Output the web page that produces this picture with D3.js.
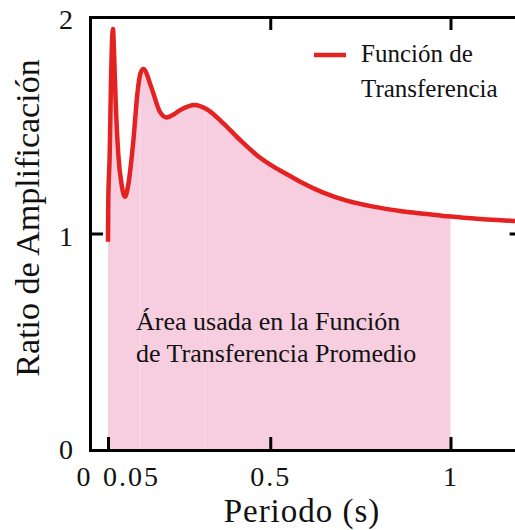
<!DOCTYPE html>
<html>
<head>
<meta charset="utf-8">
<script src="https://cdn.jsdelivr.net/npm/d3@7"></script>
<style>
  body { margin: 0; background: #fff; }
</style>
</head>
<body>
<div id="chart"></div>
<script>
// period (s) and amplification ratio
var periods = [0.0499, 0.0507, 0.0546, 0.0582, 0.0610, 0.0638, 0.0666, 0.0712, 0.0786, 0.0878,
               0.0970, 0.1060, 0.1200, 0.1320, 0.1400, 0.1480, 0.1710, 0.1940, 0.2130, 0.2340,
               0.2500, 0.2910, 0.3240, 0.3700, 0.4160, 0.4620, 0.5090, 0.5500, 0.5830, 0.6470,
               0.7120, 0.7860, 0.8600, 0.9340, 1.0000, 1.0820, 1.1740, 1.2000]
var ratios  = [0.962, 1.147, 1.363, 1.701, 1.886, 1.945, 1.840, 1.609, 1.363, 1.224,
               1.170, 1.224, 1.424, 1.655, 1.740, 1.760, 1.671, 1.562, 1.536, 1.552,
               1.570, 1.594, 1.574, 1.509, 1.432, 1.363, 1.309, 1.270, 1.239, 1.189,
               1.152, 1.124, 1.104, 1.090, 1.078, 1.067, 1.058, 1.055]

var xTicks = [0, 0.05, 0.5, 1]
var xTopTicks = [0.5, 1]
var yTicks = [0, 1, 2]
var areaRange = [0.05, 1]
var seamPeriods = [0.139, 0.319]   // faint joins visible in the shaded patch
var legendLabel = ["Función de", "Transferencia"]
var noteLines = ["Área usada en la Función", "de Transferencia Promedio"]

var width = 515, height = 530
var red = "#e52222", pink = "#f7cde0"
var serif = "'Liberation Serif'"

var data = periods.map(function(p, i){ return {t: p, a: ratios[i]} })

var svg = d3.select("#chart").append("svg")
    .attr("width", width)
    .attr("height", height)

var x = d3.scaleLinear().domain([0, 1.2]).range([90, 522.6])
var y = d3.scaleLinear().domain([0, 2]).range([450, 17])

var lineGen = d3.line()
    .x(function(d){ return x(d.t) })
    .y(function(d){ return y(d.a) })
    .curve(d3.curveMonotoneX)

// shaded area used for the average transfer function
var areaData = data.filter(function(d){ return d.t >= areaRange[0] - 0.001 && d.t <= areaRange[1] })
svg.append("path")
    .datum(areaData)
    .attr("fill", pink)
    .attr("d", d3.area()
        .x(function(d){ return x(Math.max(d.t, areaRange[0])) })
        .y0(y(0))
        .y1(function(d){ return y(d.a) })
        .curve(d3.curveMonotoneX))

// light seams inside the patch
var bisect = d3.bisector(function(d){ return d.t }).left
svg.selectAll("line.seam")
    .data(seamPeriods)
    .join("line")
    .attr("class", "seam")
    .attr("x1", function(d){ return x(d) })
    .attr("x2", function(d){ return x(d) })
    .attr("y1", y(0))
    .attr("y2", function(d){
        var i = bisect(data, d), a = data[i - 1], b = data[i]
        var v = a.a + (b.a - a.a) * (d - a.t) / (b.t - a.t)
        return y(v)
    })
    .attr("stroke", "#fff")
    .attr("stroke-opacity", 0.35)
    .attr("stroke-width", 1)

// the curve
svg.append("path")
    .datum(data)
    .attr("fill", "none")
    .attr("stroke", red)
    .attr("stroke-width", 4.5)
    .attr("stroke-linejoin", "round")
    .attr("d", lineGen)

// axes, ticks pointing inwards
var fontTick = 28
var xShift = {"0": -6, "0.05": 23}

var gx = svg.append("g")
    .attr("transform", "translate(0," + y(0) + ")")
    .call(d3.axisBottom(x).tickValues(xTicks).tickSize(-13).tickSizeOuter(0).tickPadding(16)
        .tickFormat(function(d){ return String(d) }))
gx.selectAll("text")
    .attr("dx", function(d){ return xShift[String(d)] || 0 })

var gy = svg.append("g")
    .attr("transform", "translate(" + x(0) + ",0)")
    .call(d3.axisLeft(y).tickValues(yTicks).tickSize(-13).tickSizeOuter(0).tickPadding(15)
        .tickFormat(function(d){ return String(d) }))
gy.selectAll("text")
    .attr("dy", function(d){ return d == 0 ? "0.3em" : "0.42em" })

var gt = svg.append("g")
    .attr("transform", "translate(0," + y(2) + ")")
    .call(d3.axisTop(x).tickValues(xTopTicks).tickSize(-13).tickSizeOuter(0).tickFormat(""))

var gr = svg.append("g")
    .attr("transform", "translate(" + x(1.2) + ",0)")
    .call(d3.axisRight(y).tickValues([1]).tickSize(-13).tickSizeOuter(0).tickFormat(""))

svg.selectAll(".domain")
    .attr("stroke", "#000")
    .attr("stroke-width", 3)
    .attr("stroke-linecap", "square")
svg.selectAll(".tick line")
    .attr("stroke", "#000")
    .attr("stroke-width", 3)
svg.selectAll(".tick text")
    .attr("font-size", fontTick)
    .attr("letter-spacing", 2)

// axis titles
svg.append("text")
    .attr("x", 302)
    .attr("y", 522)
    .attr("text-anchor", "middle")
    .attr("font-size", 33)
    .attr("letter-spacing", 1)
    .text("Periodo (s)")

svg.append("text")
    .attr("transform", "translate(39,218) rotate(-90)")
    .attr("text-anchor", "middle")
    .attr("font-size", 34)
    .text("Ratio de Amplificación")

// legend
svg.append("line")
    .attr("x1", 314).attr("x2", 346)
    .attr("y1", 55).attr("y2", 55)
    .attr("stroke", red)
    .attr("stroke-width", 4.5)

svg.append("text")
    .attr("font-size", 25)
    .selectAll("tspan")
    .data(legendLabel)
    .join("tspan")
    .attr("x", 361)
    .attr("y", function(d, i){ return 62 + i * 34.5 })
    .text(function(d){ return d })

// note inside shaded area
svg.append("text")
    .attr("font-size", 26)
    .selectAll("tspan")
    .data(noteLines)
    .join("tspan")
    .attr("x", 136)
    .attr("y", function(d, i){ return 330 + i * 32 })
    .text(function(d){ return d })

svg.selectAll("text")
    .style("font-family", serif)
    .style("fill", "#111")
</script>
</body>
</html>
